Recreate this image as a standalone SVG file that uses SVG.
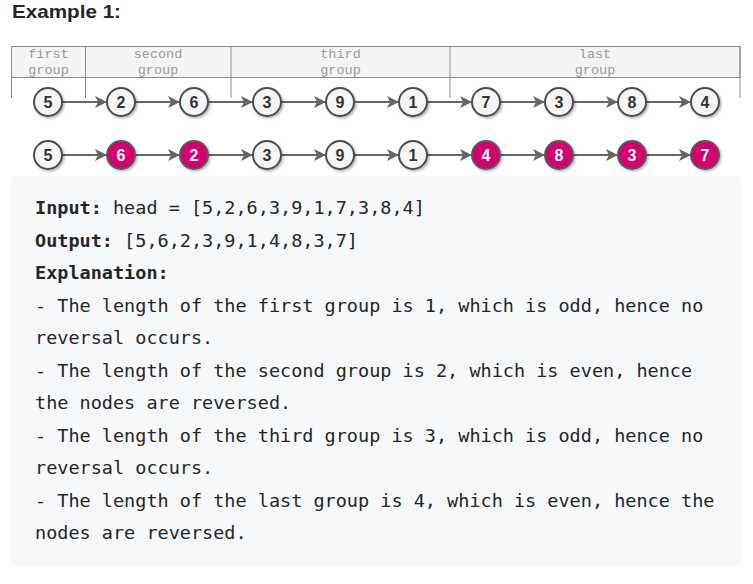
<svg xmlns="http://www.w3.org/2000/svg" width="753" height="584" viewBox="0 0 753 584">
<style>
.title{font-family:"Liberation Sans",Arial,sans-serif;font-weight:700;font-size:18.5px;fill:#262626}
.hdr{font-family:"Liberation Mono","Courier New",monospace;font-size:13.5px;fill:#9a9a9a;text-anchor:middle}
.tline{stroke:#8c8c8c;stroke-width:1;fill:none}
.nd circle{stroke:#4d4d4d;stroke-width:2;fill:#f5f5f5;filter:url(#sh)}
.nd text{font-family:"Liberation Sans",Arial,sans-serif;font-weight:700;font-size:16px;fill:#333;text-anchor:middle}
.nd.pk circle{fill:#d5006f;stroke:#5a5a5a}
.nd.pk text{fill:#ffffff}
.conn line{stroke:#666;stroke-width:2;marker-end:url(#ah)}
.code{font-family:"DejaVu Sans Mono","Liberation Mono",monospace;font-size:18.5px;fill:#262626}
.code .b{font-weight:700}
</style>
<defs>
<marker id="ah" viewBox="0 0 12 12" refX="11" refY="6" markerWidth="12" markerHeight="12" markerUnits="userSpaceOnUse" orient="auto">
<path d="M0,0 L12,6 L0,12 L3,6 Z" fill="#666"/>
</marker>
<filter id="sh" x="-30%" y="-30%" width="170%" height="170%">
<feDropShadow dx="1.5" dy="1.5" stdDeviation="1" flood-color="#000" flood-opacity="0.3"/>
</filter>
</defs>
<rect width="753" height="584" fill="#ffffff"/>
<text class="title" x="12" y="17.5" textLength="109" lengthAdjust="spacingAndGlyphs">Example 1:</text>

<g id="groups">
<rect x="11.5" y="46.5" width="728.5" height="31" fill="#f4f4f4" stroke="#8c8c8c" stroke-width="1"/>
<line class="tline" x1="11.5" y1="46.5" x2="11.5" y2="98"/>
<line class="tline" x1="85.5" y1="46.5" x2="85.5" y2="98"/>
<line class="tline" x1="231" y1="46.5" x2="231" y2="98"/>
<line class="tline" x1="450" y1="46.5" x2="450" y2="98"/>
<line class="tline" x1="740" y1="46.5" x2="740" y2="98"/>
<text class="hdr" x="48.5" y="57.5">first</text>
<text class="hdr" x="48.5" y="74">group</text>
<text class="hdr" x="158" y="57.5">second</text>
<text class="hdr" x="158" y="74">group</text>
<text class="hdr" x="340.5" y="57.5">third</text>
<text class="hdr" x="340.5" y="74">group</text>
<text class="hdr" x="595" y="57.5">last</text>
<text class="hdr" x="595" y="74">group</text>
</g>

<g id="connectors" class="conn">
<line x1="62" y1="102" x2="106" y2="102"/>
<line x1="135" y1="102" x2="179" y2="102"/>
<line x1="208" y1="102" x2="252" y2="102"/>
<line x1="281" y1="102" x2="325" y2="102"/>
<line x1="354" y1="102" x2="398" y2="102"/>
<line x1="427" y1="102" x2="471" y2="102"/>
<line x1="500" y1="102" x2="544" y2="102"/>
<line x1="573" y1="102" x2="617" y2="102"/>
<line x1="646" y1="102" x2="690" y2="102"/>
<line x1="62" y1="155" x2="106" y2="155"/>
<line x1="135" y1="155" x2="179" y2="155"/>
<line x1="208" y1="155" x2="252" y2="155"/>
<line x1="281" y1="155" x2="325" y2="155"/>
<line x1="354" y1="155" x2="398" y2="155"/>
<line x1="427" y1="155" x2="471" y2="155"/>
<line x1="500" y1="155" x2="544" y2="155"/>
<line x1="573" y1="155" x2="617" y2="155"/>
<line x1="646" y1="155" x2="690" y2="155"/>
</g>

<g id="a1" class="nd"><circle cx="48" cy="102" r="14"/><text x="48" y="107.8">5</text></g>
<g id="a2" class="nd"><circle cx="121" cy="102" r="14"/><text x="121" y="107.8">2</text></g>
<g id="a3" class="nd"><circle cx="194" cy="102" r="14"/><text x="194" y="107.8">6</text></g>
<g id="a4" class="nd"><circle cx="267" cy="102" r="14"/><text x="267" y="107.8">3</text></g>
<g id="a5" class="nd"><circle cx="340" cy="102" r="14"/><text x="340" y="107.8">9</text></g>
<g id="a6" class="nd"><circle cx="413" cy="102" r="14"/><text x="413" y="107.8">1</text></g>
<g id="a7" class="nd"><circle cx="486" cy="102" r="14"/><text x="486" y="107.8">7</text></g>
<g id="a8" class="nd"><circle cx="559" cy="102" r="14"/><text x="559" y="107.8">3</text></g>
<g id="a9" class="nd"><circle cx="632" cy="102" r="14"/><text x="632" y="107.8">8</text></g>
<g id="a10" class="nd"><circle cx="705" cy="102" r="14"/><text x="705" y="107.8">4</text></g>

<g id="b1" class="nd"><circle cx="48" cy="155" r="14"/><text x="48" y="160.8">5</text></g>
<g id="b2" class="nd pk"><circle cx="121" cy="155" r="14"/><text x="121" y="160.8">6</text></g>
<g id="b3" class="nd pk"><circle cx="194" cy="155" r="14"/><text x="194" y="160.8">2</text></g>
<g id="b4" class="nd"><circle cx="267" cy="155" r="14"/><text x="267" y="160.8">3</text></g>
<g id="b5" class="nd"><circle cx="340" cy="155" r="14"/><text x="340" y="160.8">9</text></g>
<g id="b6" class="nd"><circle cx="413" cy="155" r="14"/><text x="413" y="160.8">1</text></g>
<g id="b7" class="nd pk"><circle cx="486" cy="155" r="14"/><text x="486" y="160.8">4</text></g>
<g id="b8" class="nd pk"><circle cx="559" cy="155" r="14"/><text x="559" y="160.8">8</text></g>
<g id="b9" class="nd pk"><circle cx="632" cy="155" r="14"/><text x="632" y="160.8">3</text></g>
<g id="b10" class="nd pk"><circle cx="705" cy="155" r="14"/><text x="705" y="160.8">7</text></g>

<g id="explanation">
<rect x="11" y="176" width="730" height="389" rx="5" fill="#f7f8fa"/>
<text class="code" x="35" y="214"><tspan class="b">Input:</tspan> head = [5,2,6,3,9,1,7,3,8,4]</text>
<text class="code" x="35" y="246.5"><tspan class="b">Output:</tspan> [5,6,2,3,9,1,4,8,3,7]</text>
<text class="code" x="35" y="279"><tspan class="b">Explanation:</tspan></text>
<text class="code" x="35" y="311.5">- The length of the first group is 1, which is odd, hence no</text>
<text class="code" x="35" y="344">reversal occurs.</text>
<text class="code" x="35" y="376.5">- The length of the second group is 2, which is even, hence</text>
<text class="code" x="35" y="409">the nodes are reversed.</text>
<text class="code" x="35" y="441.5">- The length of the third group is 3, which is odd, hence no</text>
<text class="code" x="35" y="474">reversal occurs.</text>
<text class="code" x="35" y="506.5">- The length of the last group is 4, which is even, hence the</text>
<text class="code" x="35" y="539">nodes are reversed.</text>
</g>
</svg>
